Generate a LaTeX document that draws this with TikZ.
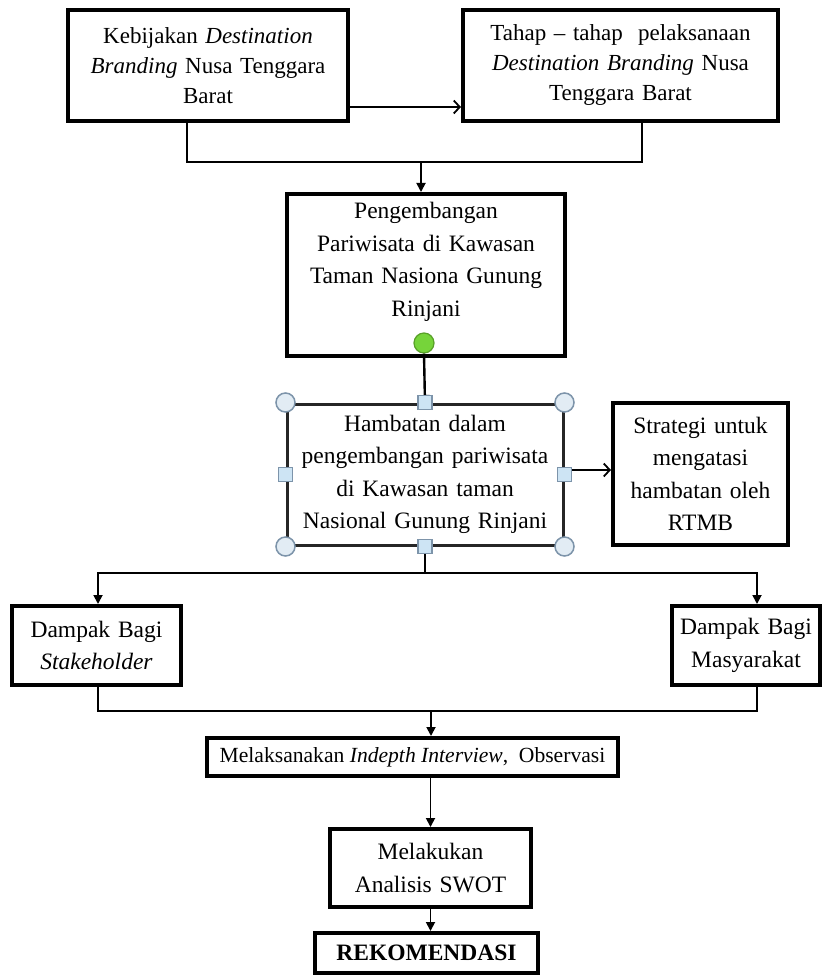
\documentclass[tikz,border=0pt]{standalone}
\usepackage{fontspec}
\setmainfont{Liberation Serif}
\usetikzlibrary{arrows.meta,calc}
\newcommand\boxfont{\fontsize{23.5}{32.5}\selectfont}
\newcommand\topfont{\fontsize{23}{30}\selectfont}
\definecolor{hdl}{RGB}{125,148,170}
\definecolor{hfill}{RGB}{226,236,244}
\definecolor{hsqfill}{RGB}{205,228,244}
\definecolor{grn}{RGB}{118,212,58}
\definecolor{grnd}{RGB}{88,160,40}
\begin{document}
\begin{tikzpicture}[x=1pt,y=-1pt,
  box/.style={draw=black, line width=4pt, fill=white, inner sep=0pt, align=center, font=\boxfont},
  selbox/.style={box, line width=3pt, draw=black!85},
  txt/.style={inner sep=0pt, align=center, font=\boxfont},
  conn/.style={line width=1.8pt},
  varrow/.style={conn, -{Triangle[length=9pt,width=9pt]}},
  harrow/.style={conn, -{Straight Barb[length=6pt,width=13pt,line width=1.8pt]}},
  hcirc/.style={circle, draw=hdl, fill=hfill, line width=1.5pt, minimum size=19pt, inner sep=0pt},
  hsq/.style={rectangle, draw=hdl, fill=hsqfill, line width=1.2pt, minimum size=14pt, inner sep=0pt},
  grhandle/.style={circle, draw=grnd, fill=grn, line width=1.2pt, minimum size=20pt, inner sep=0pt}
]
\useasboundingbox[fill=white] (0,0) rectangle (834,976);

% top row
\node[box, font=\topfont, minimum width=280pt, minimum height=111pt, text width=272pt] (b1) at (208,65.5)
  {Kebijakan \textit{Destination}\\ \textit{Branding} Nusa Tenggara\\ Barat};
\node[box, font=\topfont, minimum width=315pt, minimum height=111pt, text width=305pt] (b2) at (620.5,65.5)
  {Tahap – tahap\ \ pelaksanaan\\ \textit{Destination Branding} Nusa\\ Tenggara Barat};

\coordinate (a1) at ([yshift=16pt]b1.south east);
\draw[harrow] (a1) -- (a1 -| b2.west);

% third box
\node[box, minimum width=278pt, minimum height=162pt] (b3) at (426,275) {};
\node[txt, text width=270pt] (b3t) at (426,262)
  {Pengembangan\\ Pariwisata di Kawasan\\ Taman Nasiona Gunung\\ Rinjani};

\coordinate (j1) at (421,162);
\draw[conn] ([xshift=-21pt]b1.south) |- (j1) -| ([xshift=21.5pt]b2.south);
\draw[varrow] (j1) -- (j1 |- b3.north);

\node[grhandle] (g) at (424,343) {};

% selected box
\draw[varrow, line width=2.4pt] (g.south) -- (425,404);
\node[selbox, minimum width=276pt, minimum height=141pt, text width=268pt] (b4) at (425,474.5)
  {Hambatan dalam\\ pengembangan pariwisata\\ di Kawasan taman\\ Nasional Gunung Rinjani};

\node[box, minimum width=175pt, minimum height=142pt, text width=170pt] (b5) at (700.5,474)
  {Strategi untuk\\ mengatasi\\ hambatan oleh\\ RTMB};

\coordinate (a2) at ([yshift=4.5pt]b4.east);
\draw[harrow] (a2) -- (a2 -| b5.west);

% impacts
\node[box, minimum width=169pt, minimum height=79pt, text width=162pt] (b6) at (96.5,645.5)
  {Dampak Bagi\\ \textit{Stakeholder}};
\node[box, minimum width=148pt, minimum height=79pt, text width=142pt] (b7) at (746,645.5)
  {Dampak Bagi\\ Masyarakat};

\coordinate (j2) at (425,573);
\draw[conn] (b4.south) -- (j2);
\draw[varrow] (j2) -| ([xshift=1.5pt]b6.north);
\draw[varrow] (j2) -| ([xshift=11pt]b7.north);

% handles of selected box
\node[hcirc] (h1) at (b4.north west) {};
\node[hcirc] (h2) at (b4.north east) {};
\node[hcirc] (h3) at (b4.south west) {};
\node[hcirc] (h4) at (b4.south east) {};
\node[hsq] (h5) at (b4.north) {};
\node[hsq] (h6) at (b4.south) {};
\node[hsq] (h7) at (b4.west) {};
\node[hsq] (h8) at (b4.east) {};

% lower chain
\node[box, minimum width=411pt, minimum height=38pt, font=\fontsize{21.6}{30}\selectfont] (b8) at (412.5,757)
  {Melaksanakan \textit{Indepth Interview},\ \ Observasi};
\node[box, minimum width=201pt, minimum height=78pt, text width=194pt] (b9) at (430.5,868)
  {Melakukan\\ Analisis SWOT};
\node[box, minimum width=223pt, minimum height=40pt] (b10) at (426.5,953)
  {\textbf{REKOMENDASI}};

\coordinate (j3) at (431,711);
\draw[conn] ([xshift=1.5pt]b6.south) |- (j3) -| ([xshift=11pt]b7.south);
\draw[varrow] (j3) -- (j3 |- b8.north);
\draw[varrow] (b8.south -| b9.north) -- (b9.north);
\draw[varrow] (b9.south) -- (b9.south |- b10.north);
\end{tikzpicture}
\end{document}
